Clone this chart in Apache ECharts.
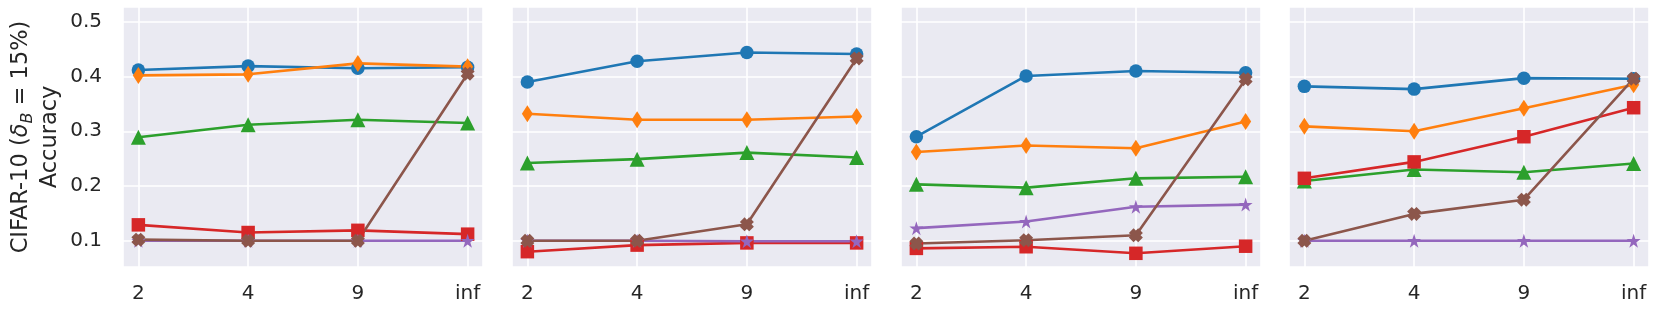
<!DOCTYPE html>
<html>
<head>
<meta charset="utf-8">
<script src="https://cdn.jsdelivr.net/npm/echarts@6/dist/echarts.min.js"></script>
<style>
html,body{margin:0;padding:0;background:#fff;}
#chart{width:1661px;height:312px;}
</style>
</head>
<body>
<div id="chart"></div>
<script>
// x categories (tick labels)
const xLabels = ['2', '4', '9', 'inf'];
// y tick labels shown on first panel
const yTicks = [0.1, 0.2, 0.3, 0.4, 0.5];

// series values: one inner list per panel (4 panels), values at x = 2, 4, 9, inf
const blueCircle   = [[0.412, 0.419, 0.415, 0.417], [0.390, 0.428, 0.444, 0.441], [0.290, 0.401, 0.410, 0.407], [0.382, 0.377, 0.397, 0.396]];
const orangeDiamond= [[0.402, 0.404, 0.424, 0.418], [0.332, 0.321, 0.321, 0.327], [0.262, 0.274, 0.269, 0.318], [0.309, 0.300, 0.342, 0.385]];
const greenTriangle= [[0.289, 0.312, 0.321, 0.315], [0.242, 0.249, 0.261, 0.252], [0.203, 0.197, 0.214, 0.217], [0.209, 0.230, 0.225, 0.241]];
const redSquare    = [[0.129, 0.115, 0.119, 0.112], [0.080, 0.092, 0.096, 0.096], [0.086, 0.089, 0.077, 0.090], [0.214, 0.244, 0.290, 0.343]];
const purpleStar   = [[0.100, 0.100, 0.100, 0.100], [0.100, 0.100, 0.099, 0.099], [0.123, 0.135, 0.162, 0.166], [0.100, 0.100, 0.100, 0.100]];
const brownX       = [[0.102, 0.100, 0.100, 0.405], [0.100, 0.100, 0.130, 0.433], [0.095, 0.101, 0.110, 0.395], [0.100, 0.149, 0.175, 0.396]];

const STAR = 'path://M50 0 L61.23 34.55 L97.55 34.55 L68.17 55.9 L79.39 90.45 L50 69.1 L20.61 90.45 L31.83 55.9 L2.45 34.55 L38.77 34.55 Z';
const XMARK = 'path://M66.67 0 L50 16.67 L33.33 0 L0 33.33 L16.67 50 L0 66.67 L33.33 100 L50 83.33 L66.67 100 L100 66.67 L83.33 50 L100 33.33 Z';

const seriesDefs = [
  { name: 'circle', data: blueCircle, color: '#1f77b4', symbol: 'circle', size: 13.5 },
  { name: 'diamond', data: orangeDiamond, color: '#ff7f0e', symbol: 'diamond', size: [11, 17] },
  { name: 'triangle', data: greenTriangle, color: '#2ca02c', symbol: 'triangle', size: 15 },
  { name: 'square', data: redSquare, color: '#d62728', symbol: 'rect', size: 13.5 },
  { name: 'star', data: purpleStar, color: '#9467bd', symbol: STAR, size: 14 },
  { name: 'x', data: brownX, color: '#8c564b', symbol: XMARK, size: 14 }
];

const panelLeft = [123, 512, 901, 1289];
const textColor = '#262626';
const font = 'DejaVu Sans';

const grids = [], xAxes = [], yAxes = [], series = [];
panelLeft.forEach((left, p) => {
  grids.push({ left: left, width: 360, top: 7, height: 260, show: true, backgroundColor: '#eaeaf2', borderWidth: 0 });
  xAxes.push({
    type: 'value', gridIndex: p, min: -0.14, max: 3.14, minInterval: 1, maxInterval: 1, splitNumber: 3,
    axisLine: { show: false }, axisTick: { show: false },
    splitLine: { show: true, lineStyle: { color: '#ffffff', width: 1.6 } },
    axisLabel: {
      color: textColor, fontFamily: font, fontSize: 20, margin: 17,
      formatter: v => (Math.abs(v - Math.round(v)) < 1e-6 && xLabels[Math.round(v)] !== undefined) ? xLabels[Math.round(v)] : ''
    }
  });
  const y = {
    type: 'value', gridIndex: p, min: 0.052, max: 0.527, minInterval: 0.1, maxInterval: 0.1,
    axisLine: { show: false }, axisTick: { show: false },
    splitLine: { show: true, lineStyle: { color: '#ffffff', width: 1.6 } },
    axisLabel: {
      show: p === 0, color: textColor, fontFamily: font, fontSize: 20, margin: 21,
      formatter: v => {
        const t = yTicks.find(k => Math.abs(k - v) < 1e-6);
        return t !== undefined ? t.toFixed(1) : '';
      }
    }
  };
  if (p === 0) {
    y.name = '{a|CIFAR-10 (}{d|δ}{s|B}{a| = 15%)}\n{a|Accuracy}';
    y.nameLocation = 'middle';
    y.nameRotate = 90;
    y.nameGap = 58;
    y.nameTextStyle = {
      color: textColor, fontFamily: font, fontSize: 22.5, align: 'center',
      rich: {
        a: { fontFamily: font, fontSize: 22.5, color: textColor, lineHeight: 29 },
        d: { fontFamily: font, fontSize: 22.5, color: textColor, fontStyle: 'italic', lineHeight: 29 },
        s: { fontFamily: font, fontSize: 16, color: textColor, fontStyle: 'italic', lineHeight: 15, verticalAlign: 'bottom' }
      }
    };
  }
  yAxes.push(y);
  seriesDefs.forEach(d => {
    series.push({
      name: d.name, type: 'line', xAxisIndex: p, yAxisIndex: p,
      data: d.data[p].map((v, i) => [i, v]),
      symbol: d.symbol, symbolSize: d.size, symbolKeepAspect: false,
      itemStyle: { color: d.color, opacity: 1 },
      lineStyle: { color: d.color, width: 2.6 },
      emphasis: { disabled: true },
      animation: false
    });
  });
});

const chart = echarts.init(document.getElementById('chart'), null, { renderer: 'canvas' });
chart.setOption({
  animation: false,
  backgroundColor: '#ffffff',
  grid: grids, xAxis: xAxes, yAxis: yAxes, series: series,
  tooltip: { show: false }
});
</script>
</body>
</html>
